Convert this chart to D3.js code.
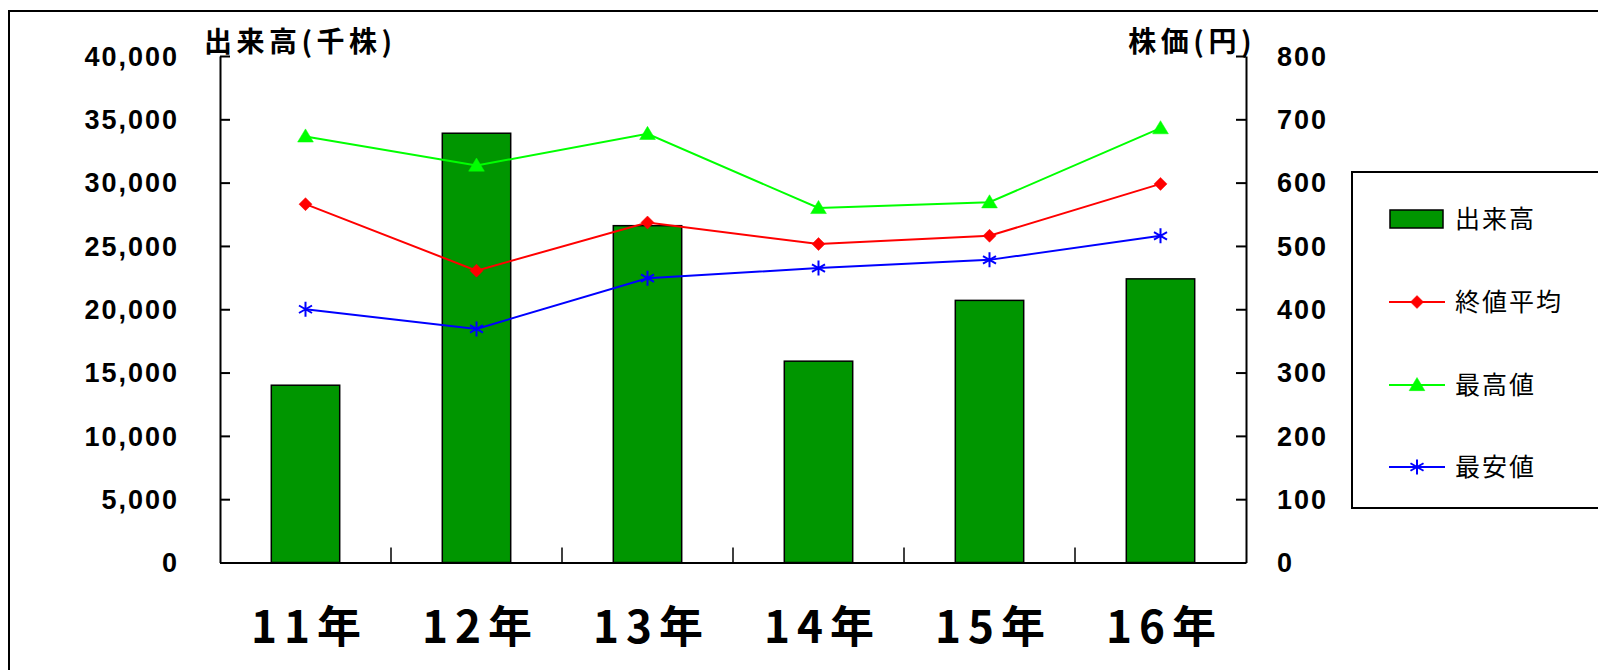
<!DOCTYPE html>
<html>
<head>
<meta charset="utf-8">
<script src="https://cdn.jsdelivr.net/npm/d3@7"></script>
<style>
  html, body { margin: 0; padding: 0; background: #fff; overflow: hidden; }
  svg { display: block; }
</style>
</head>
<body>
<svg id="chart" width="1598" height="670"></svg>
<script>
// ---- data ----
const categories = ["11年", "12年", "13年", "14年", "15年", "16年"];
const volume = [14000, 33900, 26600, 15900, 20700, 22400];      // 出来高(千株)
const avgClose = [566, 461, 537, 503, 516, 598];                  // 終値平均
const highPrice = [673, 627, 677, 560, 569, 686];                 // 最高値
const lowPrice = [400, 369, 449, 465, 478, 516];                  // 最安値
const leftTicks = [0, 5000, 10000, 15000, 20000, 25000, 30000, 35000, 40000];
const rightTicks = [0, 100, 200, 300, 400, 500, 600, 700, 800];
const legendLabels = ["出来高", "終値平均", "最高値", "最安値"];

// ---- layout ----
const svg = d3.select("#chart");
const L = 220, R = 1246, T = 56, B = 562.5;
const jp = "'Noto Sans CJK JP', 'Noto Sans CJK SC', sans-serif";
const num = "'Liberation Sans', Arial, sans-serif";

const x = d3.scaleBand().domain(categories).range([L, R]).padding(0);
const yL = d3.scaleLinear().domain([0, 40000]).range([B, T]);
const yR = d3.scaleLinear().domain([0, 800]).range([B, T]);

// outer frame
svg.append("rect").attr("x", 9).attr("y", 11).attr("width", 1700).attr("height", 800)
  .attr("fill", "none").attr("stroke", "#000").attr("stroke-width", 2);

// bars
const barW = x.bandwidth() * 0.4;
svg.append("g").selectAll("rect").data(volume).join("rect")
  .attr("x", (d, i) => x(categories[i]) + (x.bandwidth() - barW) / 2)
  .attr("y", d => yL(d))
  .attr("width", barW)
  .attr("height", d => B - yL(d))
  .attr("fill", "#009600").attr("stroke", "#000").attr("stroke-width", 1.5);

// axes
const fmt = d3.format(",");
const gl = svg.append("g").attr("transform", `translate(${L},0)`)
  .call(d3.axisRight(yL).tickValues(leftTicks).tickFormat("").tickSize(10).tickSizeOuter(0));
const gr = svg.append("g").attr("transform", `translate(${R},0)`)
  .call(d3.axisLeft(yR).tickValues(rightTicks).tickFormat("").tickSize(10).tickSizeOuter(0));
const gb = svg.append("g").attr("transform", `translate(0,${B})`)
  .call(d3.axisTop(x).tickSize(0).tickFormat("").tickSizeOuter(0));
[gl, gr, gb].forEach(g => {
  g.selectAll("path.domain").attr("stroke", "#000").attr("stroke-width", 2);
  g.selectAll(".tick line").attr("stroke", "#000").attr("stroke-width", 2);
});
// category separator ticks
svg.append("g").selectAll("line").data(categories.slice(1)).join("line")
  .attr("x1", d => x(d)).attr("x2", d => x(d))
  .attr("y1", B).attr("y2", B - 15)
  .attr("stroke", "#000").attr("stroke-width", 1.5);

// tick labels
svg.append("g").selectAll("text").data(leftTicks).join("text")
  .attr("x", 179).attr("y", d => yL(d)).attr("dy", "0.36em")
  .attr("text-anchor", "end").attr("font-family", num).attr("font-weight", "bold")
  .attr("font-size", 27).attr("letter-spacing", 2).text(d => fmt(d));
svg.append("g").selectAll("text").data(rightTicks).join("text")
  .attr("x", 1277).attr("y", d => yR(d)).attr("dy", "0.36em")
  .attr("text-anchor", "start").attr("font-family", num).attr("font-weight", "bold")
  .attr("font-size", 27).attr("letter-spacing", 2).text(d => d);

// category labels
svg.append("g").selectAll("text").data(categories).join("text")
  .attr("x", d => x(d) + x.bandwidth() / 2 + 4).attr("y", 627).attr("dy", "0.36em")
  .attr("text-anchor", "middle").attr("font-family", jp).attr("font-weight", "bold")
  .attr("font-size", 44).attr("letter-spacing", 7).text(d => d);

// axis titles
svg.append("text").attr("x", 204).attr("y", 42).attr("dy", "0.36em")
  .attr("font-family", jp).attr("font-weight", "bold").attr("font-size", 28)
  .attr("letter-spacing", 4.5).text("出来高(千株)");
svg.append("text").attr("x", 1256).attr("y", 42).attr("dy", "0.36em")
  .attr("text-anchor", "end")
  .attr("font-family", jp).attr("font-weight", "bold").attr("font-size", 28)
  .attr("letter-spacing", 4.5).text("株価(円)");

// markers
const diamond = r => `M0,${-r}L${r},0L0,${r}L${-r},0Z`;
const triangle = r => `M0,${-r}L${r * 1.05},${r * 0.75}L${-r * 1.05},${r * 0.75}Z`;
const asterisk = r => `M0,${-r}L0,${r}M${-r * 0.87},${-r * 0.5}L${r * 0.87},${r * 0.5}M${-r * 0.87},${r * 0.5}L${r * 0.87},${-r * 0.5}`;

const series = [
  { vals: avgClose, color: "#ff0000", mark: diamond(6.5), filled: true },
  { vals: highPrice, color: "#00ff00", mark: triangle(7.5), filled: true },
  { vals: lowPrice, color: "#0000ff", mark: asterisk(7.5), filled: false }
];
const line = d3.line().x((d, i) => x(categories[i]) + x.bandwidth() / 2).y(d => yR(d));
series.forEach(s => {
  svg.append("path").datum(s.vals).attr("d", line)
    .attr("fill", "none").attr("stroke", s.color).attr("stroke-width", 2);
  svg.append("g").selectAll("path").data(s.vals).join("path")
    .attr("transform", (d, i) => `translate(${x(categories[i]) + x.bandwidth() / 2},${yR(d)})`)
    .attr("d", s.mark)
    .attr("fill", s.filled ? s.color : "none")
    .attr("stroke", s.color).attr("stroke-width", s.filled ? 0.5 : 2);
});

// legend
svg.append("rect").attr("x", 1352).attr("y", 172).attr("width", 400).attr("height", 336)
  .attr("fill", "#fff").attr("stroke", "#000").attr("stroke-width", 2);
const legY = [219, 302, 385, 467];
const lg = svg.append("g");
lg.append("rect").attr("x", 1390).attr("y", legY[0] - 9).attr("width", 53).attr("height", 18)
  .attr("fill", "#009600").attr("stroke", "#000").attr("stroke-width", 1.5);
series.forEach((s, k) => {
  const yy = legY[k + 1];
  lg.append("line").attr("x1", 1389).attr("x2", 1445).attr("y1", yy).attr("y2", yy)
    .attr("stroke", s.color).attr("stroke-width", 2);
  lg.append("path").attr("transform", `translate(1417,${yy})`).attr("d", s.mark)
    .attr("fill", s.filled ? s.color : "none").attr("stroke", s.color)
    .attr("stroke-width", s.filled ? 0.5 : 2);
});
lg.selectAll("text").data(legendLabels).join("text")
  .attr("x", 1455).attr("y", (d, i) => legY[i]).attr("dy", "0.36em")
  .attr("font-family", jp).attr("font-size", 25).attr("letter-spacing", 2)
  .text(d => d);
</script>
</body>
</html>
